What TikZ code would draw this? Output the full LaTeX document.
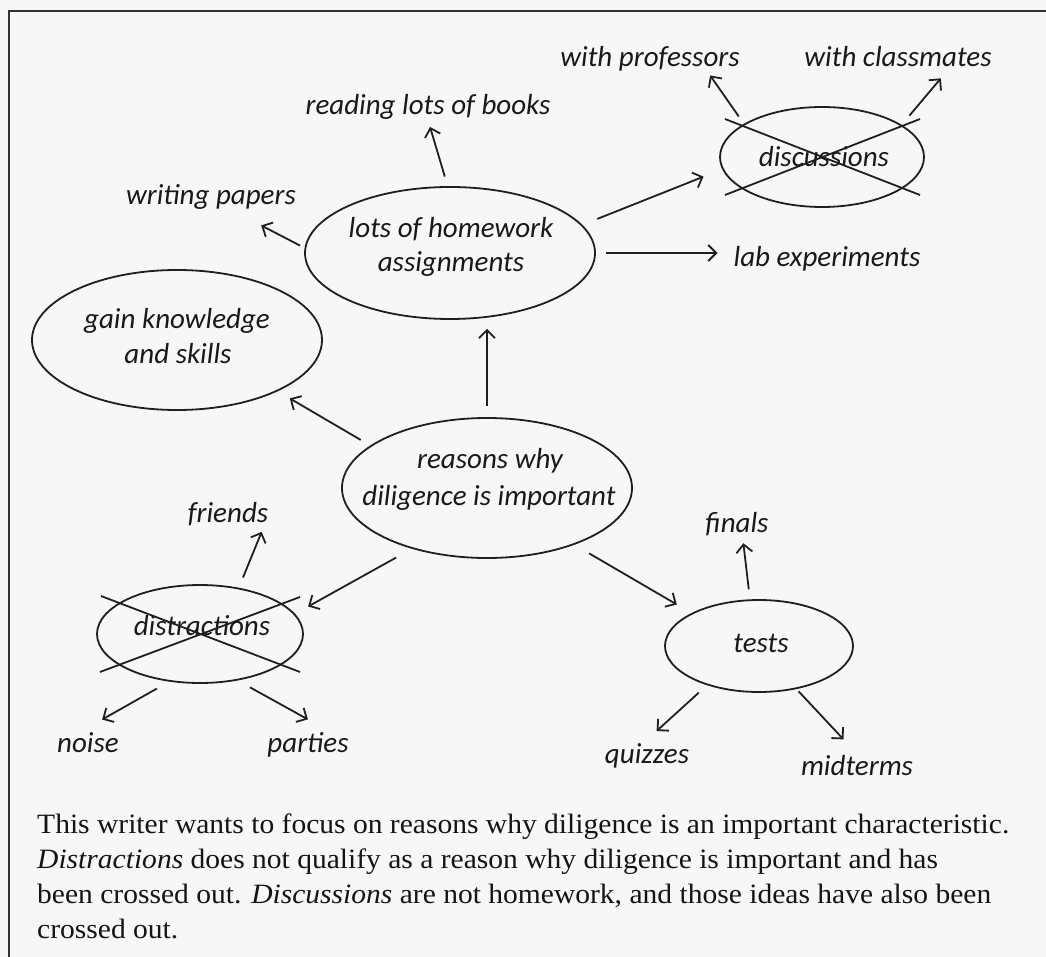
\documentclass[tikz,border=0pt]{standalone}
\usepackage{fontspec}
\setmainfont{Liberation Serif}
\newfontfamily\hand{Carlito}
\usetikzlibrary{shapes.geometric,arrows.meta}
\begin{document}
\begin{tikzpicture}[x=1pt,y=-1pt,
  ink/.style={draw=black!88, line width=1.8pt},
  oval/.style={ellipse, ink, inner sep=0pt},
  lbl/.style={font=\hand\itshape\fontsize{29}{32}\selectfont, text=black!90, inner sep=0pt, text height=15pt, text depth=5pt, anchor=base},
  arr/.style={ink, -{Straight Barb[length=8pt,width=16pt]}},
  captxt/.style={font=\fontsize{28}{35}\selectfont, text=black!92, inner sep=0pt, anchor=base west}]
\fill[black!3] (0,0) rectangle (1046,957);
\useasboundingbox (0,0) rectangle (1046,957);
\draw[line width=2pt, black!80] (9,960) -- (9,11) -- (1046,11);

% ellipses
\node[oval, minimum width=204pt, minimum height=100pt] (disc) at (822,157) {};
\node[oval, minimum width=290pt, minimum height=132pt] (hw) at (450,253) {};
\node[oval, minimum width=290pt, minimum height=140pt] (gain) at (177,340) {};
\node[oval, minimum width=290pt, minimum height=140pt] (reasons) at (487,488) {};
\node[oval, minimum width=206pt, minimum height=98pt] (distr) at (200,634) {};
\node[oval, minimum width=188pt, minimum height=92pt] (tests) at (759,646) {};

% ellipse texts
\node[lbl] (disct) at (824,167) {discussions};
\node[lbl] (hwa) at (451,238) {lots of homework};
\node[lbl] (hwb) at (451,272) {assignments};
\node[lbl] (gaina) at (177,329) {gain knowledge};
\node[lbl] (gainb) at (178,363) {and skills};
\node[lbl] (rea) at (490,468) {reasons why};
\node[lbl] (reb) at (489,505) {diligence is important};
\node[lbl] (distrt) at (202,635) {distractions};
\node[lbl] (testst) at (761,652) {tests};

% free labels
\node[lbl] (prof) at (650,67) {with professors};
\node[lbl] (class) at (898,67) {with classmates};
\node[lbl] (books) at (428,115) {reading lots of books};
\node[lbl] (papers) at (211,205) {writing papers};
\node[lbl] (lab) at (827,267) {lab experiments};
\node[lbl] (friends) at (228,522) {friends};
\node[lbl] (finals) at (737,532) {finals};
\node[lbl] (noise) at (88,752) {noise};
\node[lbl] (parties) at (308,752) {parties};
\node[lbl] (quizzes) at (647,763) {quizzes};
\node[lbl] (midterms) at (857,775) {midterms};

% cross-outs
\draw[ink] (disc.center) ++(-97,-38) -- ++(195,76);
\draw[ink] (disc.center) ++(-97,38) -- ++(195,-76);
\draw[ink] (distr.center) ++(-99,-38) -- ++(199,76);
\draw[ink] (distr.center) ++(100,-37) -- ++(-200,75);

% arrows
\draw[arr, shorten <=10pt, shorten >=7pt] (hw.92) -- (books.south);
\draw[arr, shorten <=9pt, shorten >=4pt] (disc.157) -- (prof.-10);
\draw[arr, shorten <=12pt, shorten >=8pt] (disc.22) -- (class.-12);
\draw[arr, shorten <=5pt, shorten >=33pt] (hw.178) -- (papers.-26);
\draw[arr, shorten <=16pt, shorten >=20pt] (hw.12) -- (disc.187);
\draw[arr, shorten <=10pt, shorten >=16pt] (hw.east) -- (hw.east -| lab.west);
\draw[arr, shorten <=11pt, shorten >=9pt] (reasons.north) -- (reasons.north |- hw.south);
\draw[arr, shorten <=11pt, shorten >=14pt] (reasons.160) -- (gain.-27);
\draw[arr, shorten <=18pt, shorten >=15pt] (reasons.-141) -- (distr.12);
\draw[arr, shorten <=11pt, shorten >=5pt] (distr.50) -- (friends.-16);
\draw[arr, shorten <=14pt, shorten >=35pt] (distr.-123) -- (noise.148);
\draw[arr, shorten <=14pt, shorten >=36pt] (distr.-51) -- (parties.18);
\draw[arr, shorten <=17pt, shorten >=17pt] (reasons.-33) -- (tests.154);
\draw[arr, shorten <=10pt, shorten >=6pt] (tests.101) -- (finals.-61);
\draw[arr, shorten <=11pt, shorten >=25pt] (tests.-143) -- (quizzes.131);
\draw[arr, shorten <=3pt, shorten >=28pt] (tests.-49) -- (midterms.61);

% caption
\node[captxt] (c1) at (37,833) {\scalebox{1.055}[1]{This writer wants to focus on reasons why diligence is an important characteristic.}};
\node[captxt] (c2) at (37,868) {\scalebox{1.055}[1]{\textit{Distractions} does not qualify as a reason why diligence is important and has}};
\node[captxt] (c3) at (37,903) {\scalebox{1.055}[1]{been crossed out. \textit{Discussions} are not homework, and those ideas have also been}};
\node[captxt] (c4) at (37,938) {\scalebox{1.055}[1]{crossed out.}};
\end{tikzpicture}
\end{document}
